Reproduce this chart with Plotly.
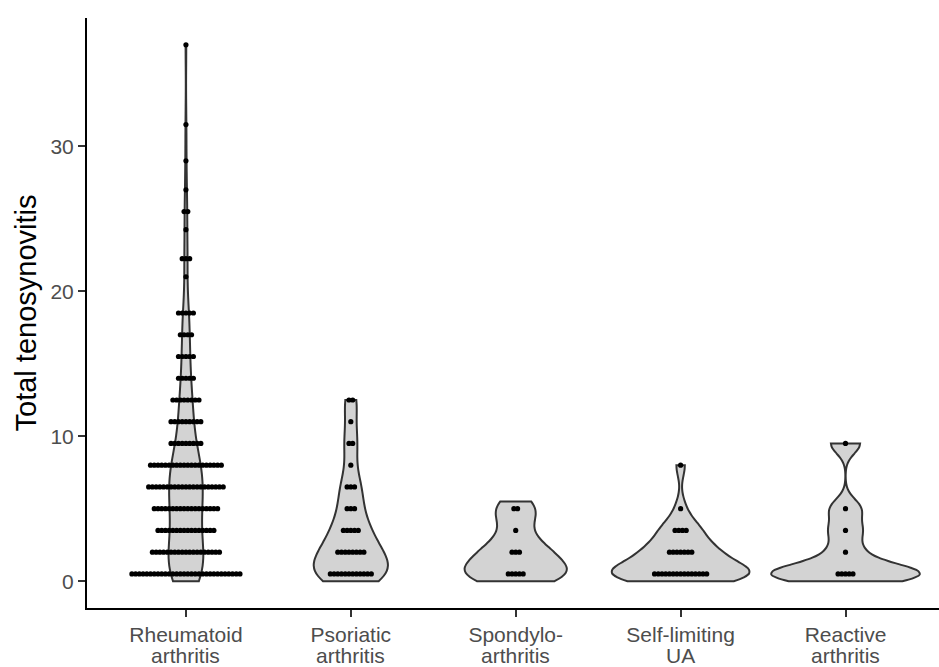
import numpy as np
import plotly.graph_objects as go

# Diagnosis groups (x axis), two lines each
group_line1 = ["Rheumatoid", "Psoriatic", "Spondylo-", "Self-limiting", "Reactive"]
group_line2 = ["arthritis", "arthritis", "arthritis", "UA", "arthritis"]

# Dot-plot bins: bin centre (score) and number of patients in each bin, per group
ra_bins = [0.5, 2, 3.5, 5, 6.5, 8, 9.5, 11, 12.5, 14, 15.5, 17, 18.5,
           21, 22.25, 24.25, 25.5, 27, 29, 31.5, 37]
ra_counts = [30, 19, 16, 18, 21, 20, 9, 9, 8, 5, 5, 4, 5,
             1, 3, 1, 2, 1, 1, 1, 1]
psa_bins = [0.5, 2, 3.5, 5, 6.5, 8, 9.5, 11, 12.5]
psa_counts = [12, 8, 5, 3, 3, 1, 2, 1, 2]
spa_bins = [0.5, 2, 3.5, 5]
spa_counts = [5, 3, 1, 2]
slua_bins = [0.5, 2, 3.5, 5, 8]
slua_counts = [15, 7, 4, 1, 1]
rea_bins = [0.5, 2, 3.5, 5, 9.5]
rea_counts = [5, 1, 1, 1, 1]

# Observed score range per group (violins are trimmed to it)
score_min = [0, 0, 0, 0, 0]
score_max = [37, 12.5, 5.5, 8, 9.5]

bins = [ra_bins, psa_bins, spa_bins, slua_bins, rea_bins]
counts = [ra_counts, psa_counts, spa_counts, slua_counts, rea_counts]

# Style settings
violin_widths = [0.21, 0.45, 0.62, 0.83, 0.9]
violin_bw = [1.6, 1.1, 0.9, 0.8, 0.7]      # kernel bandwidth per group
dot_step = 0.0226          # horizontal spacing of stacked dots, x units
dot_size = 5.2
font_family = "Liberation Sans, Arial, sans-serif"
tick_font = dict(size=21, color="#4D4D4D", family=font_family)

fig = go.Figure()

for i, (b, c) in enumerate(zip(bins, counts)):
    xpos = i + 1
    values = np.repeat(np.array(b, dtype=float), c)
    fig.add_trace(go.Violin(
        x=np.full(values.size, xpos), y=values,
        spanmode="manual", span=[score_min[i], score_max[i]],
        bandwidth=violin_bw[i],
        scalemode="width", width=violin_widths[i],
        points=False, box_visible=False, meanline_visible=False,
        fillcolor="#D3D3D3", line=dict(color="#333333", width=2),
        opacity=1, hoverinfo="skip", showlegend=False,
    ))

for i, (b, c) in enumerate(zip(bins, counts)):
    xpos = i + 1
    xs, ys = [], []
    for centre, n in zip(b, c):
        offsets = (np.arange(n) - (n - 1) / 2.0) * dot_step
        xs.extend(xpos + offsets)
        ys.extend([centre] * n)
    fig.add_trace(go.Scatter(
        x=xs, y=ys, mode="markers",
        marker=dict(color="black", size=dot_size, line=dict(width=0)),
        hoverinfo="skip", showlegend=False,
    ))

# Second line of each category label, set tighter than plotly's default line spacing
for i, txt in enumerate(group_line2):
    fig.add_annotation(
        x=i + 1, xref="x", y=0, yref="paper",
        text=txt, showarrow=False, font=tick_font,
        xanchor="center", yanchor="middle", yshift=-47,
    )

fig.update_layout(
    width=939, height=667,
    margin=dict(l=87, r=0, t=18, b=59),
    plot_bgcolor="white", paper_bgcolor="white",
    font=dict(family=font_family),
    violinmode="overlay",
    xaxis=dict(
        range=[0.4, 5.567], tickmode="array",
        tickvals=list(range(1, len(group_line1) + 1)), ticktext=group_line1,
        showline=True, linecolor="black", linewidth=2,
        ticks="outside", ticklen=7, tickwidth=2, tickcolor="#333333",
        tickfont=tick_font,
        showgrid=False, zeroline=False, automargin=False,
    ),
    yaxis=dict(
        range=[-1.85, 38.85], tickmode="array", tickvals=[0, 10, 20, 30],
        showline=True, linecolor="black", linewidth=2,
        ticks="outside", ticklen=7, tickwidth=2, tickcolor="#333333",
        tickfont=tick_font,
        showgrid=False, zeroline=False, automargin=False,
        title=dict(text="Total tenosynovitis", font=dict(size=29, color="black", family=font_family),
                   standoff=5),
    ),
)

fig.write_html("out.html")
